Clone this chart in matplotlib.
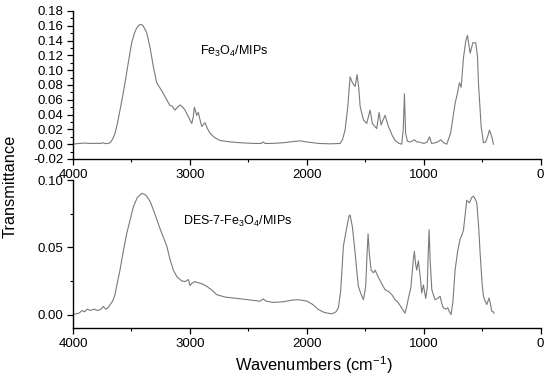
import matplotlib
matplotlib.use("Agg")
import matplotlib.pyplot as plt
from matplotlib.ticker import MultipleLocator, FixedLocator
import numpy as np

plt.rcParams['font.family'] = ['Liberation Sans', 'DejaVu Sans']
plt.rcParams['mathtext.fontset'] = 'custom'
plt.rcParams['mathtext.rm'] = 'Liberation Sans'
plt.rcParams['mathtext.default'] = 'regular'

# ---- data: Fe3O4/MIPs (top) ----
top_w = [4000, 3950, 3900, 3850, 3800, 3760, 3743, 3725, 3700, 3683, 3660, 3640, 3620, 3598, 3575,
         3555, 3525, 3498, 3475, 3455, 3435, 3421, 3400, 3370, 3340, 3313, 3284, 3240, 3198, 3170,
         3156, 3127, 3100, 3085, 3060, 3042, 3010, 2984, 2970, 2962, 2950, 2942, 2928, 2915, 2899,
         2871, 2850, 2828, 2790, 2742, 2650, 2571, 2450, 2390, 2374, 2355, 2300, 2200, 2120, 2058,
         2000, 1900, 1800, 1716, 1695, 1673, 1650, 1630, 1610, 1587, 1570, 1555, 1544, 1516, 1488,
         1459, 1439, 1402, 1382, 1365, 1331, 1302, 1270, 1245, 1210, 1188, 1175, 1165, 1155, 1140,
         1117, 1100, 1080, 1060, 1040, 1000, 970, 951, 932, 900, 882, 854, 830, 803, 770,
         732, 710, 695, 680, 660, 640, 626, 603, 580, 555, 540, 532, 509, 489, 470,
         450, 438, 418, 404]
top_v = [0.000, 0.001, 0.0015, 0.001, 0.0012, 0.001, 0.002, 0.0008, 0.001, 0.002, 0.007, 0.015, 0.028, 0.046, 0.065,
         0.083, 0.112, 0.137, 0.150, 0.157, 0.161, 0.162, 0.160, 0.151, 0.130, 0.105, 0.083, 0.072, 0.060, 0.052,
         0.052, 0.046, 0.051, 0.053, 0.050, 0.046, 0.036, 0.028, 0.038, 0.050, 0.044, 0.039, 0.043, 0.034, 0.024,
         0.029, 0.021, 0.015, 0.009, 0.005, 0.003, 0.002, 0.001, 0.001, 0.003, 0.001, 0.001, 0.002, 0.0035, 0.0045,
         0.003, 0.001, 0.0005, 0.001, 0.006, 0.019, 0.050, 0.091, 0.083, 0.078, 0.094, 0.075, 0.051, 0.033, 0.028,
         0.046, 0.028, 0.021, 0.043, 0.026, 0.039, 0.024, 0.012, 0.005, 0.001, 0.000, 0.020, 0.068, 0.015, 0.004,
         0.003, 0.004, 0.006, 0.003, 0.003, 0.001, 0.003, 0.010, 0.001, 0.002, 0.003, 0.006, 0.002, 0.000, 0.015,
         0.055, 0.070, 0.083, 0.077, 0.117, 0.140, 0.147, 0.123, 0.137, 0.137, 0.118, 0.083, 0.024, 0.002, 0.003,
         0.012, 0.019, 0.010, 0.000]

# ---- data: DES-7-Fe3O4/MIPs (bottom) ----
bot_w = [4000, 3950, 3920, 3900, 3880, 3850, 3820, 3790, 3760, 3741, 3720, 3700, 3683, 3660, 3640,
         3620, 3598, 3570, 3541, 3510, 3484, 3450, 3412, 3390, 3370, 3340, 3313, 3285, 3256, 3230,
         3198, 3170, 3142, 3110, 3070, 3040, 3013, 2999, 2985, 2960, 2942, 2900, 2856, 2810, 2771,
         2700, 2628, 2500, 2400, 2372, 2350, 2286, 2200, 2120, 2072, 2000, 1950, 1901, 1850, 1787,
         1750, 1730, 1710, 1687, 1660, 1640, 1630, 1610, 1587, 1570, 1559, 1540, 1516, 1496, 1485,
         1476, 1465, 1450, 1430, 1416, 1400, 1390, 1360, 1331, 1300, 1273, 1245, 1217, 1190, 1160,
         1145, 1131, 1110, 1090, 1080, 1070, 1060, 1046, 1030, 1017, 1003, 983, 970, 962, 954,
         945, 931, 915, 903, 880, 860, 845, 832, 810, 794, 780, 766, 750, 732, 710,
         689, 670, 660, 645, 632, 620, 609, 590, 575, 560, 546, 530, 518, 500, 489,
         475, 461, 450, 441, 430, 418, 405, 398]
bot_v = [0.000, 0.001, 0.003, 0.002, 0.004, 0.003, 0.004, 0.003, 0.004, 0.006, 0.004, 0.005, 0.0074, 0.010, 0.015,
         0.024, 0.033, 0.047, 0.060, 0.071, 0.080, 0.087, 0.090, 0.0895, 0.088, 0.084, 0.078, 0.071, 0.064, 0.058,
         0.051, 0.041, 0.033, 0.028, 0.025, 0.0245, 0.026, 0.0215, 0.023, 0.0245, 0.024, 0.023, 0.021, 0.018, 0.0148,
         0.013, 0.0123, 0.011, 0.0099, 0.0116, 0.010, 0.009, 0.0095, 0.0108, 0.011, 0.010, 0.0075, 0.0037, 0.0015, 0.0005,
         0.002, 0.005, 0.018, 0.051, 0.064, 0.073, 0.074, 0.065, 0.046, 0.030, 0.021, 0.016, 0.011, 0.021, 0.045,
         0.060, 0.045, 0.033, 0.031, 0.033, 0.030, 0.028, 0.023, 0.0185, 0.017, 0.0148, 0.011, 0.0087, 0.005, 0.001,
         0.006, 0.0123, 0.020, 0.040, 0.047, 0.038, 0.033, 0.040, 0.028, 0.016, 0.022, 0.012, 0.020, 0.045, 0.063,
         0.040, 0.0185, 0.014, 0.011, 0.012, 0.0136, 0.008, 0.005, 0.004, 0.005, 0.002, 0.000, 0.010, 0.033, 0.047,
         0.056, 0.060, 0.063, 0.075, 0.085, 0.084, 0.083, 0.087, 0.088, 0.086, 0.083, 0.065, 0.046, 0.022, 0.0136,
         0.010, 0.0074, 0.010, 0.0123, 0.008, 0.0025, 0.002, 0.001]

x_ticks = [4000, 3000, 2000, 1000, 0]
x_minor = [3500, 2500, 1500, 500]
top_yticks = [-0.02, 0.00, 0.02, 0.04, 0.06, 0.08, 0.10, 0.12, 0.14, 0.16, 0.18]
bot_yticks = [0.00, 0.05, 0.10]

line_color = '#7a7a7a'
fig = plt.figure(figsize=(5.5, 3.79), dpi=100)
ax1 = fig.add_axes([0.1327, 0.5805, 0.983 - 0.1327, 0.971 - 0.5805])
ax2 = fig.add_axes([0.1327, 0.1346, 0.983 - 0.1327, 0.525 - 0.1346])

ax1.plot(top_w, top_v, color=line_color, lw=0.8)
ax2.plot(bot_w, bot_v, color=line_color, lw=0.8)

for ax in (ax1, ax2):
    ax.set_xlim(4000, 0)
    ax.spines['top'].set_visible(False)
    ax.spines['right'].set_visible(False)
    ax.spines['left'].set_linewidth(1.0)
    ax.spines['bottom'].set_linewidth(1.0)
    ax.xaxis.set_major_locator(FixedLocator(x_ticks))
    ax.xaxis.set_minor_locator(FixedLocator(x_minor))
    ax.set_xticklabels([str(t) for t in x_ticks])
    ax.tick_params(which='major', direction='out', length=4.5, width=0.9, labelsize=9.5, pad=2.5)
    ax.tick_params(which='minor', direction='out', length=2.5, width=0.8)
    ax.patch.set_alpha(0)

ax1.set_ylim(-0.02, 0.18)
ax1.yaxis.set_major_locator(FixedLocator(top_yticks))
ax1.set_yticklabels(['%.2f' % t for t in top_yticks])
ax1.yaxis.set_minor_locator(MultipleLocator(0.01))

ax2.set_ylim(-0.01, 0.10)
ax2.yaxis.set_major_locator(FixedLocator(bot_yticks))
ax2.set_yticklabels(['%.2f' % t for t in bot_yticks])
ax2.yaxis.set_minor_locator(MultipleLocator(0.025))

ax1.text(2913, 0.125, r'Fe$_3$O$_4$/MIPs', fontsize=9, ha='left', va='center')
ax2.text(3059, 0.069, r'DES-7-Fe$_3$O$_4$/MIPs', fontsize=9, ha='left', va='center')

fig.text(10 / 550, 1 - 186 / 379, 'Transmittance', rotation=90, fontsize=11.8, ha='center', va='center')
fig.text(314 / 550, 1 - 365 / 379, r'Wavenumbers (cm$^{-1}$)', fontsize=11.8, ha='center', va='center')

fig.savefig('out.png', dpi=100)
